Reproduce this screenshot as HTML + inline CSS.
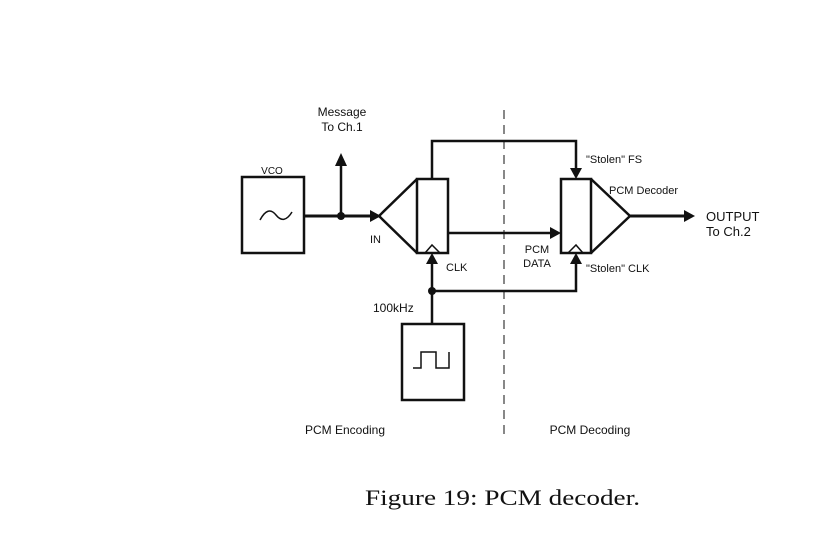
<!DOCTYPE html>
<html><head><style>body{margin:0;background:#fff}svg{display:block}</style></head><body>
<svg width="817" height="557" viewBox="0 0 817 557" xmlns="http://www.w3.org/2000/svg">
<g fill="none" stroke="#111" stroke-width="2.5">
<rect x="242" y="177" width="62" height="76"/>
<path d="M260 220 Q268 205 276 215 T292 212" stroke-width="1.5"/>
<path d="M304 216 H370" stroke-width="3"/>
<path d="M341 216 V165" stroke-width="2.5"/>
<path d="M379 216 L417 179 M379 216 L417 253"/>
<rect x="417" y="179" width="31" height="74"/>
<path d="M425 253 L432 245 L440 253" stroke-width="1.5"/>
<path d="M432 179 V141 H576 V170"/>
<path d="M448 233 H552"/>
<rect x="561" y="179" width="30" height="74"/>
<path d="M568 253 L576 245 L583 253" stroke-width="1.5"/>
<path d="M591 179 L630 216 L591 253"/>
<path d="M630 216 H685" stroke-width="3"/>
<path d="M432 324 V262"/>
<path d="M432 291 H576 V262"/>
<rect x="402" y="324" width="62" height="76"/>
<path d="M413 368 H421 V352 H436 V368 H449 V352" stroke-width="1.5"/>
<path d="M504 110 V440" stroke-width="1" stroke-dasharray="9,6"/>
</g>
<g fill="#111">
<circle cx="341" cy="216" r="4"/>
<circle cx="432" cy="291" r="4"/>
<polygon points="370,210 381,216 370,222"/>
<polygon points="335,166 341,153 347,166"/>
<polygon points="570,168 576,179 582,168"/>
<polygon points="550,227 561,233 550,239"/>
<polygon points="684,210 695,216 684,222"/>
<polygon points="426,264 432,253 438,264"/>
<polygon points="570,264 576,253 582,264"/>
</g>
<g font-family="Liberation Sans, sans-serif" font-size="11" fill="#111">
<text x="342" y="116" text-anchor="middle" font-size="12">Message</text>
<text x="342" y="131" text-anchor="middle" font-size="12">To Ch.1</text>
<text x="272" y="174" text-anchor="middle" font-size="10">VCO</text>
<text x="370" y="243">IN</text>
<text x="446" y="271">CLK</text>
<text x="586" y="163">"Stolen" FS</text>
<text x="609" y="194">PCM Decoder</text>
<text x="706" y="221" font-size="13">OUTPUT</text>
<text x="706" y="236" font-size="13">To Ch.2</text>
<text x="537" y="253" text-anchor="middle">PCM</text>
<text x="537" y="267" text-anchor="middle">DATA</text>
<text x="586" y="272">"Stolen" CLK</text>
<text x="373" y="312" font-size="12">100kHz</text>
<text x="345" y="434" text-anchor="middle" font-size="12">PCM Encoding</text>
<text x="590" y="434" text-anchor="middle" font-size="12">PCM Decoding</text>
</g>
<text x="365" y="505" textLength="275" lengthAdjust="spacingAndGlyphs" font-family="Liberation Serif, serif" font-size="22" fill="#111">Figure 19: PCM decoder.</text>
</svg>
</body></html>
